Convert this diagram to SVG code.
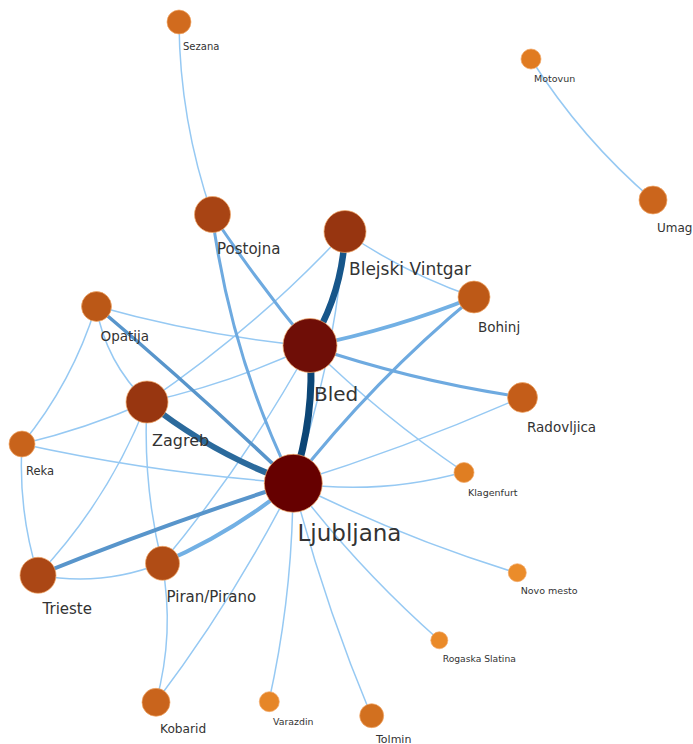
<svg xmlns="http://www.w3.org/2000/svg" width="693" height="744" viewBox="0 0 693 744">
  <style>
    .edge { fill: none; stroke-linecap: round; }
    .thin { stroke: #96c9f3; stroke-width: 1.5; }
    .mid { stroke: #6eaae0; stroke-width: 3; }
    .mid4 { stroke: #72b0e4; stroke-width: 4; }
    .strong { stroke: #5895cb; stroke-width: 4; }
    .heavy { stroke: #2b6a9c; stroke-width: 6; }
    .heavier { stroke: #17568a; stroke-width: 6.5; }
    .heaviest { stroke: #0c4676; stroke-width: 7; }
    .node circle { stroke: #f2a868; stroke-opacity: 0.7; stroke-width: 1; }
    .node text { font-family: "DejaVu Sans", "Liberation Sans", sans-serif; fill: #333333; }
  </style>

  <rect width="693" height="744" fill="#ffffff"/>

  <g id="edges">
    <!-- light links -->
    <path class="edge thin" d="M179,22 Q179.7,120.7 212,214"/>
    <path class="edge thin" d="M531,59 Q581.4,138.7 653,200"/>
    <path class="edge thin" d="M96,306 Q201.2,335.8 310,346"/>
    <path class="edge thin" d="M96,306 Q105.7,362.4 147,402"/>
    <path class="edge thin" d="M96,306 Q72.6,382.2 22,444"/>
    <path class="edge thin" d="M22,444 Q86.5,428.6 147,402"/>
    <path class="edge thin" d="M22,444 Q156.1,473.5 293,483"/>
    <path class="edge thin" d="M147,402 Q231.7,383.4 310,346"/>
    <path class="edge thin" d="M147,402 Q255.6,328.2 345,232"/>
    <path class="edge thin" d="M147,402 Q142.5,483.7 162,563"/>
    <path class="edge thin" d="M147,402 Q109.5,499.1 38,575"/>
    <path class="edge thin" d="M22,444 Q18,510.9 38,575"/>
    <path class="edge thin" d="M38,575 Q101.8,587 162,563"/>
    <path class="edge thin" d="M162,563 Q175,633.1 156,702"/>
    <path class="edge thin" d="M156,702 Q234.3,598.7 293,483"/>
    <path class="edge thin" d="M293,483 Q293,593.3 269,701"/>
    <path class="edge thin" d="M293,483 Q323.6,601.8 371,715"/>
    <path class="edge thin" d="M293,483 Q358.2,568.7 439,640"/>
    <path class="edge thin" d="M293,483 Q401.2,537.6 517,573"/>
    <path class="edge thin" d="M293,483 Q379.7,495.5 464,472"/>
    <path class="edge thin" d="M293,483 Q409.9,446.6 522,397"/>
    <path class="edge thin" d="M310,346 Q381.4,416 464,472"/>
    <path class="edge thin" d="M345,232 Q405,273.5 474,297"/>
    <path class="edge thin" d="M345,232 Q334.6,360.7 293,483"/>
    <path class="edge thin" d="M310,346 Q246.4,461.5 162,563"/>
    <!-- medium links -->
    <path class="edge mid" d="M212,214 Q257.8,282.9 310,346"/>
    <path class="edge mid" d="M212,214 Q230.5,355.6 293,483"/>
    <path class="edge mid" d="M293,483 Q373.5,380.2 474,297"/>
    <path class="edge mid" d="M310,346 Q413.6,381.3 522,397"/>
    <path class="edge mid4" d="M310,346 Q394.2,329.1 474,297"/>
    <path class="edge mid4" d="M162,563 Q233.3,532.4 293,483"/>
    <path class="edge strong" style="stroke-width:3.5" d="M96,306 Q197.1,391.5 293,483"/>
    <path class="edge strong" d="M38,575 Q163.9,524.2 293,483"/>
    <!-- heavy links -->
    <path class="edge heavy" d="M147,402 Q213.2,454.7 293,483"/>
    <path class="edge heavier" d="M345,232 Q342.8,293.7 310,346"/>
    <path class="edge heaviest" d="M310,346 Q315.4,416.3 293,483"/>
  </g>

  <g id="sezana" class="node">
    <circle cx="179" cy="22" r="12" fill="#d16b1e"/>
    <text x="183" y="50" font-size="10">Sezana</text>
  </g>
  <g id="motovun" class="node">
    <circle cx="531" cy="59" r="10" fill="#e07b21"/>
    <text x="534" y="82" font-size="9.5">Motovun</text>
  </g>
  <g id="umag" class="node">
    <circle cx="653" cy="200" r="14" fill="#cb651c"/>
    <text x="657" y="232" font-size="12">Umag</text>
  </g>
  <g id="postojna" class="node">
    <circle cx="212.5" cy="214.5" r="18" fill="#a84414"/>
    <text x="217" y="254" font-size="15">Postojna</text>
  </g>
  <g id="blejski-vintgar" class="node">
    <circle cx="345" cy="231.5" r="21" fill="#973510"/>
    <text x="349" y="275" font-size="17">Blejski Vintgar</text>
  </g>
  <g id="bohinj" class="node">
    <circle cx="474" cy="297" r="16" fill="#bd5917"/>
    <text x="478" y="332" font-size="13.5">Bohinj</text>
  </g>
  <g id="opatija" class="node">
    <circle cx="96.5" cy="306.5" r="15" fill="#bb5817"/>
    <text x="100.5" y="341" font-size="13.5">Opatija</text>
  </g>
  <g id="bled" class="node">
    <circle cx="310" cy="345.5" r="27" fill="#6f0e07"/>
    <text x="314" y="401" font-size="20">Bled</text>
  </g>
  <g id="zagreb" class="node">
    <circle cx="147" cy="402" r="21" fill="#983610"/>
    <text x="152" y="446" font-size="16">Zagreb</text>
  </g>
  <g id="radovljica" class="node">
    <circle cx="522.5" cy="397.5" r="15" fill="#c45d19"/>
    <text x="527" y="431.5" font-size="13.5">Radovljica</text>
  </g>
  <g id="reka" class="node">
    <circle cx="22" cy="444" r="13" fill="#c8631b"/>
    <text x="26" y="475" font-size="11.5">Reka</text>
  </g>
  <g id="klagenfurt" class="node">
    <circle cx="464" cy="472.5" r="10" fill="#e07e22"/>
    <text x="468" y="496" font-size="9.5">Klagenfurt</text>
  </g>
  <g id="ljubljana" class="node">
    <circle cx="293.3" cy="483.3" r="29" fill="#660000"/>
    <text x="297.5" y="541" font-size="23">Ljubljana</text>
  </g>
  <g id="trieste" class="node">
    <circle cx="38" cy="575.3" r="18" fill="#ab4715"/>
    <text x="42.5" y="614" font-size="15">Trieste</text>
  </g>
  <g id="piran" class="node">
    <circle cx="162.5" cy="563.3" r="17" fill="#b04c15"/>
    <text x="166.5" y="601.5" font-size="15">Piran/Pirano</text>
  </g>
  <g id="novo-mesto" class="node">
    <circle cx="517.3" cy="572.7" r="9" fill="#eb8c2a"/>
    <text x="520.7" y="594" font-size="9.5">Novo mesto</text>
  </g>
  <g id="rogaska-slatina" class="node">
    <circle cx="439.3" cy="640.3" r="8.5" fill="#ea8a29"/>
    <text x="442.7" y="662" font-size="9.2">Rogaska Slatina</text>
  </g>
  <g id="kobarid" class="node">
    <circle cx="156" cy="702.3" r="14" fill="#c9641c"/>
    <text x="160" y="732.5" font-size="12.2">Kobarid</text>
  </g>
  <g id="varazdin" class="node">
    <circle cx="269.3" cy="701.7" r="10" fill="#e68628"/>
    <text x="273" y="724.5" font-size="9.4">Varazdin</text>
  </g>
  <g id="tolmin" class="node">
    <circle cx="371.7" cy="715.7" r="12" fill="#d2701f"/>
    <text x="376" y="742.5" font-size="11">Tolmin</text>
  </g>
</svg>
